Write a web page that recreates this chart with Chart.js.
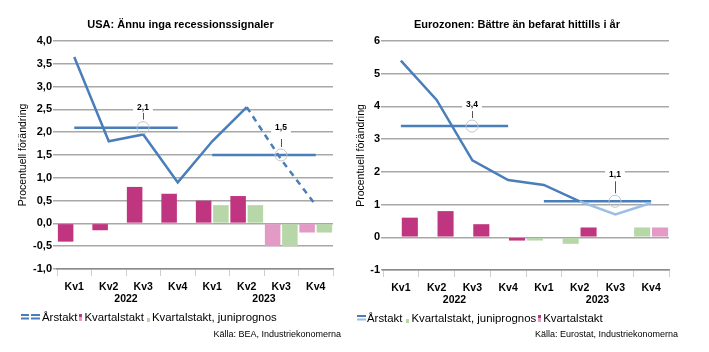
<!DOCTYPE html>
<html><head><meta charset="utf-8">
<script src="https://cdn.jsdelivr.net/npm/chart.js@4.4.1/dist/chart.umd.min.js"></script>
<style>
body{margin:0;background:#fff;width:709px;height:352px;overflow:hidden;position:relative;font-family:"Liberation Sans",Arial,sans-serif;color:#000;}
.title{position:absolute;top:17px;font-weight:bold;font-size:11px;line-height:14px;text-align:center;white-space:nowrap;}
.legend{position:absolute;font-size:11.4px;line-height:14px;white-space:nowrap;display:flex;align-items:center;}
.src{position:absolute;font-size:9px;line-height:11px;white-space:nowrap;text-align:right;}
.mk{display:inline-block;width:3px;margin:0 2px 0 2px;}
</style></head>
<body>
<canvas id="c1" width="350" height="352" style="position:absolute;left:0;top:0"></canvas>
<canvas id="c2" width="359" height="352" style="position:absolute;left:350px;top:0"></canvas>

<div class="title" style="left:0;width:361px">USA: Ännu inga recessionssignaler</div>
<div class="title" style="left:350px;width:334px">Eurozonen: Bättre än befarat hittills i år</div>

<div class="legend" style="left:21px;top:310px">
  <svg width="20" height="8" style="margin-right:1px"><line x1="0" y1="2" x2="8" y2="2" stroke="#4a7ebb" stroke-width="2"/><line x1="10" y1="2" x2="19" y2="2" stroke="#4a7ebb" stroke-width="2"/><line x1="0" y1="5.5" x2="8" y2="5.5" stroke="#4a7ebb" stroke-width="2"/><line x1="10" y1="5.5" x2="19" y2="5.5" stroke="#4a7ebb" stroke-width="2"/></svg>Årstakt<span class="mk" style="height:7px;background:linear-gradient(#c0357f 50%,#e39bc5 50%);margin-top:1px"></span>Kvartalstakt<span class="mk" style="height:4px;background:#b7d7a8;margin-top:5px;margin-left:3px"></span>Kvartalstakt, juniprognos
</div>
<div class="legend" style="left:357px;top:311px">
  <svg width="9" height="8" style="margin-right:1px"><line x1="0" y1="2" x2="9" y2="2" stroke="#4a7ebb" stroke-width="2"/><line x1="0" y1="5.5" x2="9" y2="5.5" stroke="#9dbde3" stroke-width="2"/></svg>Årstakt<span class="mk" style="height:4px;background:#b7d7a8;margin-top:5px;margin-left:4px"></span>Kvartalstakt, juniprognos<span class="mk" style="height:7px;background:linear-gradient(#c0357f 50%,#e39bc5 50%);margin-top:1px"></span>Kvartalstakt
</div>
<div class="src" style="right:368px;top:329px">Källa: BEA, Industriekonomerna</div>
<div class="src" style="right:31px;top:329px">Källa: Eurostat, Industriekonomerna</div>

<script>
// ---- data ----
const categories = ['Kv1','Kv2','Kv3','Kv4','Kv1','Kv2','Kv3','Kv4'];
const years = ['2022','2023'];

const usQuarter = [-0.4, -0.15, 0.8, 0.65, 0.5, 0.6, -0.5, -0.2];
const usJune    = [null, null, null, null, 0.4, 0.4, -0.5, -0.2];
const usAnnual  = [3.65, 1.8, 1.95, 0.9, 1.8, 2.55, 1.4, 0.4];
const usAvg     = [2.1, 1.5];
const usTicks   = [-1, 4, 0.5];

const euQuarter = [0.6, 0.8, 0.4, -0.1, 0.0, 0.3, 0.0, 0.3];
const euJune    = [null, null, null, null, -0.1, -0.2, 0.0, 0.3];
const euAnnual  = [5.4, 4.2, 2.35, 1.75, 1.6, 1.1, 0.7, 1.05];
const euAvg     = [3.4, 1.1];
const euTicks   = [-1, 6, 1];

// ---- styles ----
const FONT = '"Liberation Sans", Arial, sans-serif';
const BLUE = '#4a7ebb', LIGHTBLUE = '#9dbde3';
const MAGENTA = '#c0357f', PINK = '#e39bc5', GREEN = '#b7d7a8';
const QUARTER_FORECAST_FROM = 6; // bars drawn in pink from this index
const LINE_FORECAST_FROM = 5;    // line segments styled as forecast from this index

const fmt = v => v.toFixed(1).replace('.', ',');

const overlay = {
  id: 'overlay',
  afterDatasetsDraw(chart, args, opts) {
    const {ctx, scales: {x, y}} = chart;
    opts.notes.forEach(n => {
      const px = Math.round(x.getPixelForValue(n.index));
      const py = y.getPixelForValue(n.value);
      const ly = py - n.lift;
      ctx.save();
      ctx.beginPath(); ctx.arc(px, py, 6, 0, Math.PI * 2);
      ctx.strokeStyle = '#c4c4c4'; ctx.lineWidth = 1; ctx.stroke();
      ctx.beginPath(); ctx.moveTo(px + 0.5, ly + n.gap); ctx.lineTo(px + 0.5, py - 8);
      ctx.strokeStyle = '#555'; ctx.lineWidth = 1; ctx.stroke();
      ctx.font = 'bold 8.5px ' + FONT;
      const t = fmt(n.value);
      const w = ctx.measureText(t).width + 8;
      ctx.fillStyle = '#fff'; ctx.fillRect(px - w / 2, ly - 5, w, 10);
      ctx.fillStyle = '#000'; ctx.textAlign = 'center'; ctx.textBaseline = 'middle';
      ctx.fillText(t, px, ly);
      ctx.restore();
    });
  },
  afterDraw(chart, args, opts) {
    const {ctx, chartArea, scales: {x}} = chart;
    ctx.save();
    ctx.font = 'bold 10.5px ' + FONT;
    ctx.fillStyle = '#000'; ctx.textAlign = 'center'; ctx.textBaseline = 'middle';
    years.forEach((yr, i) => {
      const a = x.getPixelForValue(i * 4), b = x.getPixelForValue(i * 4 + 3);
      ctx.fillText(yr, (a + b) / 2, chartArea.bottom + 30);
    });
    ctx.restore();
  }
};

function avgSeries(avg, k) {
  return categories.map((c, i) => (Math.floor(i / 4) === k ? avg[k] : null));
}

function build(id, cfg) {
  const bars = [
    {type: 'bar', label: 'Kvartalstakt', data: cfg.quarter, order: 2,
     backgroundColor: cfg.quarter.map((v, i) => i >= QUARTER_FORECAST_FROM ? PINK : MAGENTA),
     barPercentage: 0.9, categoryPercentage: 1, borderWidth: 0},
    {type: 'bar', label: 'Kvartalstakt, juniprognos', data: cfg.june, order: 2,
     backgroundColor: GREEN, barPercentage: 0.9, categoryPercentage: 1, borderWidth: 0}
  ];
  if (cfg.juneFirst) bars.reverse();
  const lines = [
    {type: 'line', label: 'Årstakt', data: cfg.annual, order: 0, borderColor: BLUE, borderWidth: 2.5,
     pointRadius: 0, tension: 0, fill: false, segment: cfg.segment},
    {type: 'line', label: 'snitt1', data: avgSeries(cfg.avg, 0), order: 1, borderColor: BLUE, borderWidth: 2.5, pointRadius: 0, fill: false},
    {type: 'line', label: 'snitt2', data: avgSeries(cfg.avg, 1), order: 1, borderColor: BLUE, borderWidth: 2.5, pointRadius: 0, fill: false}
  ];
  return new Chart(document.getElementById(id), {
    data: {labels: categories, datasets: [...bars, ...lines]},
    plugins: [overlay],
    options: {
      responsive: false, animation: false, events: [],
      layout: {padding: cfg.padding},
      plugins: {legend: {display: false}, tooltip: {enabled: false}, title: {display: false},
        overlay: {notes: cfg.notes}},
      scales: {
        x: {offset: true,
            grid: {display: true, offset: true, drawOnChartArea: false, drawTicks: true, tickLength: 7, color: '#cfcfcf', lineWidth: 1},
            border: {display: true, color: '#8c8c8c', width: 1.5},
            ticks: {color: '#000', font: {family: FONT, size: 10.5, weight: 'bold'}, padding: 5, maxRotation: 0, autoSkip: false},
            afterFit: s => { s.height = cfg.xHeight; }},
        y: {min: cfg.ticks[0], max: cfg.ticks[1],
            ticks: {stepSize: cfg.ticks[2], color: '#000', font: {family: FONT, size: 11, weight: 'bold'}, padding: 1,
                    callback: cfg.tickFmt},
            grid: {color: '#a8a8a8', lineWidth: 1.5, tickLength: cfg.yTickLen, drawTicks: true},
            border: {display: false},
            title: {display: true, text: 'Procentuell förändring', color: '#000', font: {family: FONT, size: 10.5},
                    padding: {top: cfg.titlePad, bottom: 0}},
            afterFit: s => { s.width = cfg.yWidth; }}
      }
    }
  });
}

build('c1', {
  quarter: usQuarter, june: usJune, annual: usAnnual, avg: usAvg, ticks: usTicks, juneFirst: false,
  segment: {borderDash: c => c.p0DataIndex >= LINE_FORECAST_FROM ? [6, 5] : undefined},
  notes: [{index: 2, value: usAvg[0], lift: 20, gap: 5}, {index: 6, value: usAvg[1], lift: 27, gap: 11}],
  padding: {left: 0, right: 17, top: 41, bottom: 53}, xHeight: 30, yWidth: 57, yTickLen: 4, titlePad: 17,
  tickFmt: v => fmt(v)
});

build('c2', {
  quarter: euQuarter, june: euJune, annual: euAnnual, avg: euAvg, ticks: euTicks, juneFirst: true,
  segment: {borderColor: c => c.p0DataIndex >= LINE_FORECAST_FROM ? LIGHTBLUE : BLUE},
  notes: [{index: 2, value: euAvg[0], lift: 21, gap: 6}, {index: 6, value: euAvg[1], lift: 27, gap: 7}],
  padding: {left: 0, right: 40, top: 41, bottom: 52}, xHeight: 30, yWidth: 33, yTickLen: 2, titlePad: 5,
  tickFmt: v => String(v)
});
</script>
</body></html>
